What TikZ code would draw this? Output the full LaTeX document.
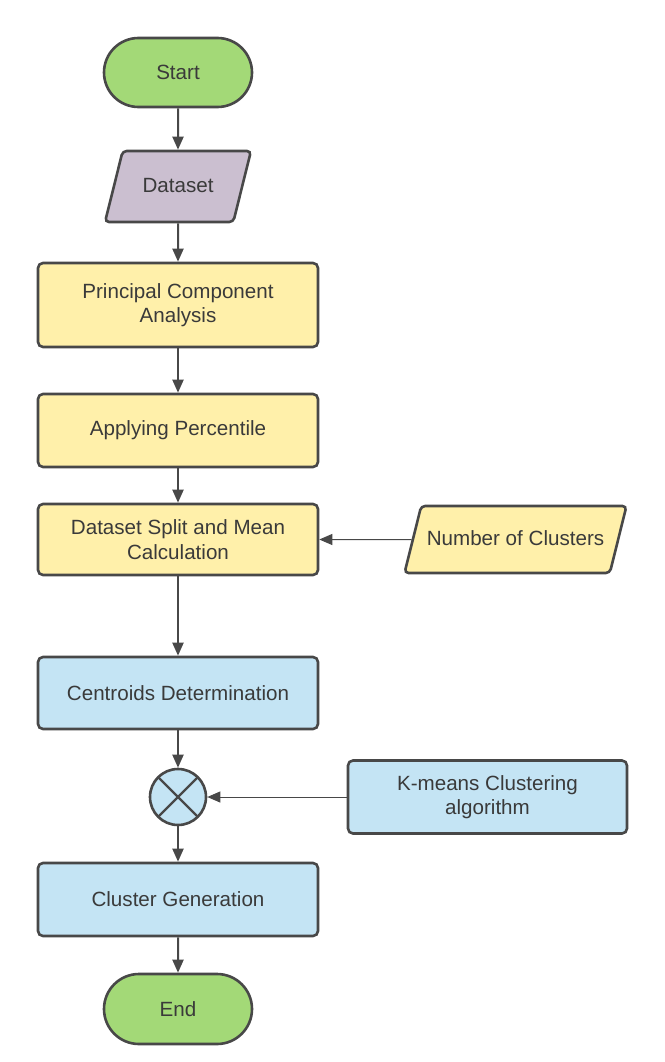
\documentclass[tikz,border=0pt]{standalone}
\usepackage{fontspec}
\setmainfont{Liberation Sans}
\usetikzlibrary{arrows.meta,shapes.geometric,shapes.misc}
\definecolor{lineGray}{RGB}{72,72,72}
\definecolor{textGray}{RGB}{58,58,58}
\definecolor{termGreen}{RGB}{163,217,119}
\definecolor{dataPurple}{RGB}{203,191,208}
\definecolor{procYellow}{RGB}{255,240,170}
\definecolor{procBlue}{RGB}{196,228,244}

\begin{document}
\begin{tikzpicture}[x=1pt,y=-1pt,
		terminal/.style={rounded rectangle,fill=termGreen,minimum width=148pt,minimum height=69pt},
		iobox/.style={trapezium,trapezium left angle=76,trapezium right angle=104,trapezium stretches body,
			rounded corners=4pt,text height=15pt,text depth=4pt,inner ysep=26pt},
		procbox/.style={rectangle,rounded corners=5pt,minimum width=280pt,minimum height=73pt},
		mixer/.style={circle,fill=procBlue,minimum size=56pt,
			path picture={\draw[line width=2.4pt,lineGray] (path picture bounding box.north west) -- (path picture bounding box.south east)
				(path picture bounding box.north east) -- (path picture bounding box.south west);}}]
		\useasboundingbox (0,0) rectangle (664,1062);
		\begin{scope}[every node/.style={draw=lineGray,line width=2.6pt,text=textGray,inner sep=0pt,
				align=center,font=\fontsize{20.6}{24.5}\selectfont}]
			\node[terminal] (start) at (178,72.5) {Start};
			\node[iobox,fill=dataPurple,minimum width=146pt] (data) at (178,186.5) {Dataset};
			\node[procbox,fill=procYellow,minimum height=84pt] (pca) at (178,305) {Principal Component\\Analysis};
			\node[procbox,fill=procYellow] (perc) at (178,430.5) {Applying Percentile};
			\node[procbox,fill=procYellow,minimum height=71pt] (split) at (178,539.5) {Dataset Split and Mean\\Calculation};
			\node[iobox,fill=procYellow,minimum width=222pt,inner ysep=24pt] (nclust) at (515.5,539.5) {Number of Clusters};
			\node[procbox,fill=procBlue,minimum height=72pt] (cent) at (178,693) {Centroids Determination};
			\node[mixer] (mix) at (178,797) {};
			\node[procbox,fill=procBlue,minimum width=279pt] (kmeans) at (487.5,797) {K-means Clustering\\algorithm};
			\node[procbox,fill=procBlue] (gen) at (178,899.5) {Cluster Generation};
			\node[terminal,minimum height=70pt] (end) at (178,1009) {End};
		\end{scope}
		\begin{scope}[>={Triangle[length=13pt,width=11pt,lineGray]},
			every edge/.style={draw=lineGray,line width=2pt}]
			\path [->] (start) edge (data);
			\path [->] (data) edge (pca);
			\path [->] (pca) edge (perc);
			\path [->] (perc) edge (split);
			\path [->] (split) edge (cent);
			\path [->] (cent) edge (mix);
			\path [->] (mix) edge (gen);
			\path [->] (gen) edge (end);
			\path [->] (nclust.west) edge[line width=1pt] (split.east);
			\path [->] (kmeans.west) edge[line width=1pt] (mix.east);
		\end{scope}
	\end{tikzpicture}
\end{document}
